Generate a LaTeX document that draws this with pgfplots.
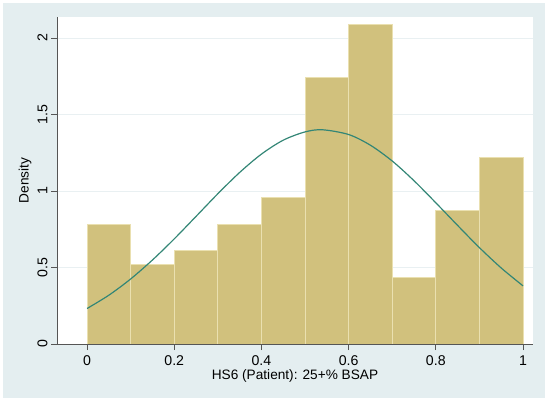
\documentclass[border=0pt]{standalone}
\usepackage{fontspec}
\setmainfont{Liberation Sans}
\usepackage{pgfplots}
\pgfplotsset{compat=1.18}
\definecolor{bgblue}{HTML}{E4EEF0}
\definecolor{barfill}{HTML}{D1C17D}
\definecolor{baredge}{HTML}{EAE0B0}
\definecolor{curve}{HTML}{338676}
\definecolor{gridc}{HTML}{E9F0F2}
\definecolor{axc}{HTML}{555555}
\begin{document}
\begin{tikzpicture}
\path[use as bounding box] (0,0) rectangle (550bp,402bp);
\fill[white] (0,0) rectangle (550bp,402bp);
\fill[bgblue] (3bp,4bp) rectangle (545bp,399bp);
\begin{axis}[
  at={(57bp,58bp)}, anchor=south west,
  scale only axis, width=476bp, height=327bp,
  xmin=-0.069, xmax=1.023, ymin=0, ymax=2.137,
  axis x line*=bottom, axis y line*=left,
  axis line style={draw=axc, line width=0.8pt, -},
  xtick={0,0.2,0.4,0.6,0.8,1},
  ytick={0,0.5,1,1.5,2},
  tick align=outside, major tick length=6bp,
  tick style={draw=axc, line width=0.8pt},
  ymajorgrids, major grid style={draw=gridc, line width=0.8pt},
  axis background/.style={fill=white},
  font=\fontsize{13.7}{16}\selectfont,
  ticklabel style={font=\fontsize{14.2}{16}\selectfont},
  /pgf/number format/assume math mode=true,
  yticklabel style={rotate=90, anchor=south},
  xticklabel style={yshift=-2bp},
  xlabel={HS6 (Patient): 25+\% BSAP},
  ylabel={Density},
  xlabel style={at={(axis description cs:0.5,0)}, anchor=north, yshift=-22bp},
  ylabel style={at={(axis description cs:-0.0672,0.5)}, anchor=center},
]
\addplot[ybar interval, fill=barfill, draw=baredge, line width=0.9pt] coordinates {
(0.0,0.783) (0.1,0.522) (0.2,0.609) (0.3,0.783) (0.4,0.957)
(0.5,1.739) (0.6,2.087) (0.7,0.435) (0.8,0.870) (0.9,1.217) (1.0,1.217)
};
\addplot[curve, line width=1.2pt, smooth] coordinates {
(0.00,0.232) (0.05,0.319) (0.10,0.425) (0.15,0.549) (0.20,0.687)
(0.25,0.834) (0.30,0.982) (0.35,1.121) (0.40,1.241) (0.45,1.332)
(0.50,1.386) (0.54,1.400) (0.60,1.369) (0.65,1.299) (0.70,1.196)
(0.75,1.067) (0.80,0.923) (0.85,0.775) (0.90,0.630) (0.95,0.497)
(1.00,0.380)
};
\end{axis}
\end{tikzpicture}
\end{document}
